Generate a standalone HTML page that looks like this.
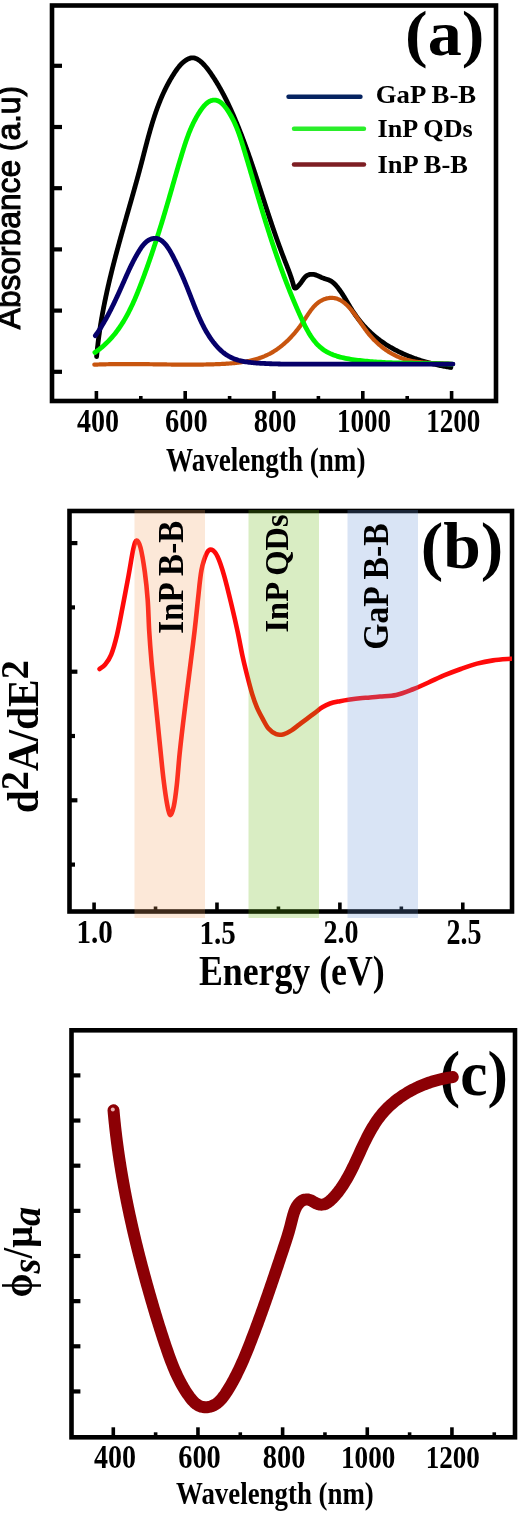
<!DOCTYPE html>
<html><head><meta charset="utf-8"><style>html,body{margin:0;padding:0;background:#fff;}svg{display:block;filter:blur(0.5px);}</style></head>
<body><svg width="520" height="1517" viewBox="0 0 520 1517">
<rect width="520" height="1517" fill="#fff"/>
<rect x="52" y="5.5" width="444" height="395.5" fill="none" stroke="#000" stroke-width="4.6"/>
<line x1="52" y1="65.8" x2="62" y2="65.8" stroke="#000" stroke-width="4.2"/>
<line x1="52" y1="127" x2="62" y2="127" stroke="#000" stroke-width="4.2"/>
<line x1="52" y1="188.2" x2="62" y2="188.2" stroke="#000" stroke-width="4.2"/>
<line x1="52" y1="249.4" x2="62" y2="249.4" stroke="#000" stroke-width="4.2"/>
<line x1="52" y1="310.6" x2="62" y2="310.6" stroke="#000" stroke-width="4.2"/>
<line x1="52" y1="371.8" x2="62" y2="371.8" stroke="#000" stroke-width="4.2"/>
<line x1="96.4" y1="401" x2="96.4" y2="391" stroke="#000" stroke-width="3.6"/>
<line x1="140.8" y1="401" x2="140.8" y2="396" stroke="#000" stroke-width="3.6"/>
<line x1="185.2" y1="401" x2="185.2" y2="391" stroke="#000" stroke-width="3.6"/>
<line x1="229.6" y1="401" x2="229.6" y2="396" stroke="#000" stroke-width="3.6"/>
<line x1="274" y1="401" x2="274" y2="391" stroke="#000" stroke-width="3.6"/>
<line x1="318.4" y1="401" x2="318.4" y2="396" stroke="#000" stroke-width="3.6"/>
<line x1="362.8" y1="401" x2="362.8" y2="391" stroke="#000" stroke-width="3.6"/>
<line x1="407.2" y1="401" x2="407.2" y2="396" stroke="#000" stroke-width="3.6"/>
<line x1="451.6" y1="401" x2="451.6" y2="391" stroke="#000" stroke-width="3.6"/>
<path d="M96.62,356.55 L96.70,355.58 L96.79,354.61 L96.88,353.64 L96.97,352.68 L97.07,351.71 L97.17,350.74 L97.27,349.77 L97.37,348.80 L97.47,347.84 L97.58,346.87 L97.69,345.90 L97.80,344.94 L97.91,343.97 L98.02,343.01 L98.14,342.04 L98.26,341.08 L98.38,340.11 L98.50,339.15 L98.63,338.18 L98.76,337.22 L98.89,336.26 L99.02,335.29 L99.15,334.33 L99.29,333.37 L99.42,332.41 L99.56,331.45 L99.70,330.48 L99.85,329.52 L99.99,328.56 L100.14,327.60 L100.29,326.64 L100.44,325.68 L100.59,324.72 L100.75,323.76 L100.90,322.81 L101.06,321.85 L101.22,320.89 L101.38,319.93 L101.55,318.97 L101.71,318.02 L101.88,317.06 L102.05,316.10 L102.22,315.15 L102.39,314.19 L102.57,313.24 L102.74,312.28 L102.92,311.32 L103.10,310.37 L103.28,309.42 L103.46,308.46 L103.64,307.51 L103.83,306.55 L104.02,305.60 L104.21,304.65 L104.40,303.70 L104.59,302.74 L104.78,301.79 L104.97,300.84 L105.17,299.89 L105.37,298.94 L105.57,297.99 L105.77,297.04 L105.97,296.09 L106.17,295.14 L106.38,294.19 L106.58,293.24 L106.79,292.29 L107.00,291.34 L107.21,290.39 L107.42,289.44 L107.63,288.49 L107.85,287.55 L108.06,286.60 L108.28,285.65 L108.49,284.71 L108.71,283.76 L108.93,282.81 L109.15,281.87 L109.38,280.92 L109.60,279.98 L109.82,279.03 L110.05,278.09 L110.28,277.14 L110.50,276.20 L110.73,275.25 L110.96,274.31 L111.19,273.37 L111.43,272.42 L111.66,271.48 L111.89,270.54 L112.13,269.60 L112.36,268.65 L112.60,267.71 L112.84,266.77 L113.08,265.83 L113.32,264.89 L113.56,263.95 L113.80,263.01 L114.04,262.07 L114.29,261.13 L114.53,260.19 L114.77,259.25 L115.02,258.31 L115.27,257.37 L115.51,256.43 L115.76,255.49 L116.01,254.56 L116.26,253.62 L116.51,252.68 L116.76,251.74 L117.01,250.81 L117.27,249.87 L117.52,248.93 L117.77,248.00 L118.03,247.06 L118.28,246.12 L118.54,245.19 L118.79,244.25 L119.05,243.31 L119.31,242.38 L119.56,241.44 L119.82,240.51 L120.08,239.57 L120.34,238.64 L120.60,237.70 L120.86,236.77 L121.12,235.83 L121.38,234.90 L121.64,233.96 L121.90,233.03 L122.16,232.10 L122.43,231.16 L122.69,230.23 L122.95,229.29 L123.22,228.36 L123.48,227.43 L123.74,226.49 L124.01,225.56 L124.27,224.62 L124.54,223.69 L124.80,222.76 L125.07,221.82 L125.33,220.89 L125.60,219.96 L125.86,219.02 L126.13,218.09 L126.40,217.16 L126.66,216.22 L126.93,215.29 L127.19,214.36 L127.46,213.42 L127.73,212.49 L127.99,211.56 L128.26,210.62 L128.53,209.69 L128.79,208.75 L129.06,207.82 L129.33,206.89 L129.59,205.95 L129.86,205.02 L130.12,204.09 L130.39,203.15 L130.66,202.22 L130.92,201.28 L131.19,200.35 L131.45,199.42 L131.72,198.48 L131.98,197.55 L132.25,196.61 L132.51,195.68 L132.78,194.74 L133.04,193.81 L133.31,192.87 L133.57,191.94 L133.83,191.00 L134.10,190.07 L134.36,189.13 L134.62,188.20 L134.88,187.26 L135.14,186.32 L135.41,185.39 L135.67,184.45 L135.93,183.51 L136.19,182.58 L136.45,181.64 L136.71,180.70 L136.96,179.77 L137.22,178.83 L137.48,177.89 L137.74,176.95 L137.99,176.01 L138.25,175.08 L138.50,174.14 L138.76,173.20 L139.01,172.26 L139.27,171.32 L139.52,170.38 L139.77,169.44 L140.02,168.50 L140.27,167.56 L140.52,166.62 L140.77,165.68 L141.02,164.74 L141.27,163.80 L141.52,162.85 L141.76,161.91 L142.01,160.97 L142.26,160.03 L142.50,159.08 L142.75,158.14 L142.99,157.20 L143.23,156.25 L143.48,155.31 L143.72,154.37 L143.96,153.42 L144.21,152.48 L144.45,151.54 L144.70,150.59 L144.94,149.65 L145.18,148.71 L145.43,147.76 L145.67,146.82 L145.92,145.88 L146.17,144.94 L146.41,144.00 L146.66,143.05 L146.91,142.11 L147.16,141.17 L147.41,140.23 L147.66,139.29 L147.91,138.35 L148.17,137.41 L148.42,136.47 L148.68,135.54 L148.94,134.60 L149.20,133.66 L149.46,132.73 L149.72,131.79 L149.99,130.86 L150.25,129.92 L150.52,128.99 L150.79,128.06 L151.06,127.12 L151.34,126.19 L151.61,125.26 L151.89,124.33 L152.17,123.41 L152.46,122.48 L152.74,121.55 L153.03,120.63 L153.32,119.70 L153.62,118.78 L153.91,117.86 L154.21,116.94 L154.51,116.02 L154.82,115.10 L155.13,114.18 L155.44,113.27 L155.75,112.35 L156.07,111.44 L156.39,110.53 L156.72,109.62 L157.04,108.71 L157.37,107.80 L157.71,106.89 L158.05,105.99 L158.39,105.09 L158.74,104.19 L159.09,103.29 L159.44,102.39 L159.80,101.49 L160.16,100.59 L160.53,99.70 L160.90,98.81 L161.28,97.92 L161.66,97.03 L162.04,96.15 L162.43,95.26 L162.82,94.38 L163.22,93.50 L163.62,92.62 L164.03,91.74 L164.45,90.87 L164.86,90.00 L165.29,89.12 L165.72,88.26 L166.15,87.39 L166.59,86.53 L167.03,85.66 L167.48,84.80 L167.94,83.95 L168.40,83.09 L168.87,82.24 L169.34,81.39 L169.82,80.54 L170.30,79.69 L170.79,78.85 L171.29,78.01 L171.79,77.17 L172.30,76.33 L172.81,75.50 L173.33,74.67 L173.86,73.84 L174.39,73.01 L174.94,72.19 L175.48,71.37 L176.04,70.56 L176.61,69.75 L177.18,68.95 L177.77,68.17 L178.37,67.39 L178.98,66.63 L179.61,65.88 L180.26,65.15 L180.92,64.44 L181.59,63.75 L182.29,63.08 L183.01,62.43 L183.74,61.81 L184.50,61.21 L185.28,60.64 L186.08,60.10 L186.91,59.60 L187.75,59.15 L188.60,58.74 L189.47,58.40 L190.34,58.13 L191.22,57.94 L192.10,57.84 L192.98,57.83 L193.86,57.93 L194.73,58.11 L195.59,58.38 L196.44,58.73 L197.29,59.15 L198.12,59.63 L198.94,60.17 L199.75,60.76 L200.54,61.40 L201.32,62.07 L202.07,62.77 L202.81,63.50 L203.53,64.24 L204.23,64.99 L204.91,65.74 L205.56,66.50 L206.20,67.26 L206.82,68.02 L207.42,68.79 L208.01,69.56 L208.59,70.33 L209.16,71.10 L209.72,71.88 L210.27,72.67 L210.82,73.45 L211.36,74.24 L211.90,75.04 L212.44,75.83 L212.97,76.63 L213.50,77.44 L214.02,78.24 L214.54,79.05 L215.06,79.87 L215.57,80.68 L216.08,81.50 L216.58,82.32 L217.08,83.15 L217.58,83.98 L218.07,84.81 L218.56,85.64 L219.05,86.48 L219.53,87.32 L220.01,88.16 L220.48,89.00 L220.95,89.85 L221.42,90.70 L221.89,91.55 L222.35,92.40 L222.81,93.26 L223.26,94.11 L223.71,94.97 L224.16,95.83 L224.61,96.70 L225.05,97.56 L225.49,98.43 L225.93,99.30 L226.36,100.17 L226.79,101.04 L227.22,101.92 L227.64,102.79 L228.07,103.67 L228.49,104.55 L228.90,105.43 L229.32,106.31 L229.73,107.19 L230.14,108.08 L230.55,108.96 L230.95,109.85 L231.35,110.74 L231.75,111.63 L232.15,112.52 L232.55,113.41 L232.94,114.30 L233.33,115.19 L233.72,116.08 L234.10,116.98 L234.49,117.87 L234.87,118.77 L235.25,119.66 L235.63,120.56 L236.01,121.45 L236.38,122.35 L236.76,123.25 L237.13,124.15 L237.50,125.05 L237.86,125.95 L238.23,126.85 L238.59,127.75 L238.95,128.65 L239.31,129.55 L239.67,130.45 L240.03,131.36 L240.38,132.26 L240.74,133.16 L241.09,134.07 L241.44,134.97 L241.79,135.88 L242.13,136.79 L242.48,137.69 L242.82,138.60 L243.17,139.51 L243.51,140.42 L243.85,141.33 L244.19,142.24 L244.52,143.14 L244.86,144.05 L245.19,144.97 L245.53,145.88 L245.86,146.79 L246.19,147.70 L246.52,148.61 L246.85,149.53 L247.17,150.44 L247.50,151.35 L247.82,152.27 L248.15,153.18 L248.47,154.10 L248.79,155.01 L249.11,155.93 L249.43,156.84 L249.75,157.76 L250.07,158.67 L250.38,159.59 L250.70,160.51 L251.01,161.43 L251.33,162.34 L251.64,163.26 L251.95,164.18 L252.26,165.10 L252.58,166.02 L252.89,166.94 L253.19,167.86 L253.50,168.78 L253.81,169.70 L254.12,170.62 L254.42,171.54 L254.73,172.46 L255.04,173.38 L255.34,174.30 L255.65,175.23 L255.95,176.15 L256.25,177.07 L256.56,177.99 L256.86,178.92 L257.16,179.84 L257.46,180.76 L257.77,181.68 L258.07,182.61 L258.37,183.53 L258.67,184.45 L258.97,185.38 L259.27,186.30 L259.57,187.23 L259.87,188.15 L260.17,189.08 L260.47,190.00 L260.77,190.92 L261.07,191.85 L261.37,192.77 L261.67,193.70 L261.97,194.62 L262.27,195.55 L262.57,196.47 L262.86,197.40 L263.16,198.33 L263.46,199.25 L263.76,200.18 L264.06,201.10 L264.36,202.03 L264.67,202.95 L264.97,203.88 L265.27,204.80 L265.57,205.73 L265.87,206.65 L266.17,207.58 L266.47,208.51 L266.78,209.43 L267.08,210.36 L267.38,211.28 L267.69,212.21 L267.99,213.13 L268.30,214.06 L268.60,214.98 L268.91,215.91 L269.22,216.83 L269.52,217.76 L269.83,218.68 L270.14,219.61 L270.45,220.53 L270.76,221.46 L271.07,222.38 L271.38,223.30 L271.69,224.23 L272.00,225.15 L272.32,226.07 L272.63,226.99 L272.95,227.92 L273.26,228.84 L273.58,229.76 L273.89,230.68 L274.21,231.60 L274.53,232.52 L274.85,233.44 L275.17,234.36 L275.49,235.27 L275.81,236.19 L276.13,237.11 L276.45,238.02 L276.78,238.94 L277.10,239.85 L277.43,240.77 L277.75,241.68 L278.08,242.59 L278.41,243.50 L278.73,244.41 L279.06,245.32 L279.40,246.23 L279.73,247.14 L280.06,248.05 L280.39,248.95 L280.73,249.86 L281.06,250.76 L281.40,251.67 L281.74,252.57 L282.07,253.47 L282.41,254.37 L282.75,255.27 L283.10,256.17 L283.44,257.06 L283.78,257.96 L284.13,258.85 L284.47,259.75 L284.82,260.64 L285.17,261.53 L285.52,262.42 L285.87,263.31 L286.22,264.20 L286.57,265.09 L286.92,265.98 L287.26,266.87 L287.61,267.76 L287.96,268.66 L288.30,269.56 L288.64,270.46 L288.98,271.36 L289.32,272.27 L289.66,273.18 L289.99,274.10 L290.32,275.02 L290.64,275.95 L290.96,276.89 L291.27,277.83 L291.58,278.77 L291.89,279.73 L292.19,280.69 L292.48,281.66 L292.77,282.64 L293.05,283.63 L293.32,284.62 L293.60,285.61 L293.89,286.53 L294.21,287.31 L294.59,287.88 L295.05,288.17 L295.59,288.14 L296.21,287.84 L296.87,287.32 L297.57,286.65 L298.28,285.89 L298.98,285.11 L299.66,284.33 L300.32,283.53 L300.96,282.71 L301.58,281.86 L302.19,280.99 L302.78,280.10 L303.38,279.23 L304.00,278.39 L304.63,277.60 L305.30,276.88 L306.00,276.24 L306.74,275.70 L307.52,275.26 L308.33,274.91 L309.17,274.64 L310.04,274.46 L310.92,274.35 L311.81,274.32 L312.71,274.36 L313.62,274.46 L314.53,274.63 L315.42,274.86 L316.31,275.14 L317.19,275.47 L318.05,275.84 L318.90,276.23 L319.75,276.64 L320.59,277.04 L321.43,277.42 L322.28,277.78 L323.12,278.10 L323.97,278.39 L324.82,278.67 L325.67,278.94 L326.51,279.21 L327.35,279.49 L328.18,279.79 L329.00,280.11 L329.81,280.48 L330.61,280.89 L331.40,281.35 L332.17,281.88 L332.92,282.46 L333.66,283.10 L334.38,283.77 L335.08,284.48 L335.77,285.23 L336.45,286.00 L337.11,286.79 L337.75,287.59 L338.38,288.40 L338.99,289.21 L339.58,290.02 L340.17,290.83 L340.74,291.65 L341.29,292.46 L341.84,293.28 L342.38,294.10 L342.90,294.91 L343.42,295.73 L343.93,296.55 L344.44,297.37 L344.93,298.19 L345.43,299.01 L345.91,299.83 L346.40,300.65 L346.88,301.47 L347.36,302.29 L347.85,303.11 L348.33,303.92 L348.81,304.74 L349.29,305.56 L349.78,306.37 L350.27,307.19 L350.77,308.00 L351.27,308.81 L351.78,309.62 L352.30,310.43 L352.82,311.24 L353.35,312.05 L353.89,312.85 L354.44,313.65 L354.99,314.45 L355.55,315.25 L356.12,316.04 L356.70,316.83 L357.28,317.61 L357.87,318.40 L358.46,319.18 L359.06,319.95 L359.67,320.72 L360.29,321.49 L360.91,322.25 L361.54,323.00 L362.18,323.75 L362.82,324.50 L363.47,325.23 L364.12,325.97 L364.78,326.69 L365.45,327.41 L366.12,328.13 L366.80,328.83 L367.49,329.53 L368.18,330.22 L368.87,330.91 L369.57,331.59 L370.28,332.26 L370.99,332.92 L371.71,333.57 L372.44,334.22 L373.17,334.86 L373.90,335.49 L374.64,336.12 L375.39,336.74 L376.14,337.35 L376.89,337.96 L377.65,338.56 L378.42,339.15 L379.19,339.73 L379.96,340.31 L380.74,340.88 L381.53,341.44 L382.31,342.00 L383.11,342.55 L383.91,343.09 L384.71,343.63 L385.51,344.16 L386.32,344.69 L387.14,345.20 L387.96,345.71 L388.78,346.22 L389.61,346.72 L390.44,347.21 L391.28,347.69 L392.11,348.17 L392.96,348.65 L393.80,349.11 L394.65,349.57 L395.51,350.03 L396.36,350.48 L397.22,350.92 L398.09,351.35 L398.96,351.78 L399.83,352.21 L400.70,352.63 L401.58,353.04 L402.46,353.45 L403.34,353.85 L404.22,354.24 L405.11,354.63 L406.00,355.01 L406.90,355.39 L407.79,355.76 L408.69,356.13 L409.60,356.49 L410.50,356.85 L411.41,357.20 L412.32,357.54 L413.23,357.88 L414.14,358.22 L415.06,358.54 L415.97,358.87 L416.89,359.19 L417.82,359.50 L418.74,359.81 L419.67,360.11 L420.59,360.41 L421.52,360.70 L422.45,360.99 L423.39,361.27 L424.32,361.55 L425.25,361.82 L426.19,362.09 L427.13,362.35 L428.07,362.61 L429.01,362.86 L429.95,363.11 L430.89,363.36 L431.84,363.60 L432.78,363.83 L433.73,364.06 L434.67,364.29 L435.62,364.51 L436.57,364.73 L437.51,364.94 L438.46,365.15 L439.41,365.35 L440.36,365.55 L441.31,365.75 L442.26,365.94 L443.21,366.13 L444.16,366.31 L445.11,366.49 L446.07,366.66 L447.02,366.83 L447.97,367.00 L448.92,367.16 L449.87,367.32 L450.82,367.48" fill="none" stroke="#000" stroke-width="4.8" stroke-linecap="round" stroke-linejoin="round" />
<path d="M94.33,364.68 L95.37,364.63 L96.42,364.59 L97.47,364.55 L98.51,364.51 L99.56,364.47 L100.60,364.43 L101.65,364.40 L102.69,364.37 L103.73,364.34 L104.77,364.31 L105.81,364.28 L106.85,364.26 L107.89,364.23 L108.93,364.21 L109.97,364.19 L111.00,364.17 L112.04,364.16 L113.08,364.14 L114.11,364.12 L115.15,364.11 L116.18,364.10 L117.21,364.09 L118.25,364.08 L119.28,364.07 L120.31,364.06 L121.34,364.06 L122.37,364.05 L123.40,364.05 L124.43,364.05 L125.46,364.04 L126.49,364.04 L127.52,364.04 L128.55,364.05 L129.58,364.05 L130.60,364.05 L131.63,364.06 L132.66,364.06 L133.68,364.07 L134.71,364.07 L135.73,364.08 L136.76,364.09 L137.78,364.10 L138.81,364.11 L139.83,364.12 L140.86,364.13 L141.88,364.14 L142.91,364.15 L143.93,364.16 L144.95,364.17 L145.97,364.18 L147.00,364.20 L148.02,364.21 L149.04,364.22 L150.06,364.24 L151.09,364.25 L152.11,364.27 L153.13,364.28 L154.15,364.30 L155.17,364.31 L156.20,364.33 L157.22,364.34 L158.24,364.35 L159.26,364.37 L160.28,364.38 L161.30,364.40 L162.32,364.41 L163.35,364.43 L164.37,364.44 L165.39,364.46 L166.41,364.47 L167.43,364.48 L168.45,364.50 L169.48,364.51 L170.50,364.52 L171.52,364.53 L172.54,364.55 L173.56,364.56 L174.59,364.57 L175.61,364.58 L176.63,364.59 L177.65,364.60 L178.68,364.60 L179.70,364.61 L180.73,364.62 L181.75,364.63 L182.77,364.63 L183.80,364.64 L184.82,364.64 L185.85,364.64 L186.87,364.64 L187.90,364.64 L188.92,364.64 L189.95,364.64 L190.98,364.64 L192.01,364.64 L193.03,364.64 L194.06,364.63 L195.09,364.62 L196.12,364.62 L197.15,364.61 L198.18,364.60 L199.21,364.59 L200.24,364.57 L201.27,364.56 L202.30,364.54 L203.33,364.53 L204.36,364.51 L205.40,364.49 L206.43,364.47 L207.47,364.45 L208.50,364.42 L209.54,364.40 L210.57,364.37 L211.61,364.34 L212.65,364.31 L213.68,364.28 L214.72,364.24 L215.76,364.21 L216.80,364.17 L217.84,364.13 L218.88,364.09 L219.93,364.04 L220.97,363.99 L222.01,363.95 L223.05,363.89 L224.10,363.84 L225.14,363.78 L226.18,363.72 L227.22,363.65 L228.26,363.58 L229.30,363.51 L230.34,363.43 L231.38,363.34 L232.42,363.25 L233.45,363.16 L234.49,363.06 L235.52,362.95 L236.55,362.84 L237.58,362.73 L238.61,362.60 L239.63,362.47 L240.66,362.33 L241.68,362.19 L242.69,362.03 L243.71,361.87 L244.72,361.71 L245.73,361.53 L246.74,361.35 L247.74,361.15 L248.74,360.95 L249.73,360.74 L250.73,360.52 L251.71,360.29 L252.70,360.05 L253.68,359.80 L254.65,359.54 L255.62,359.27 L256.59,358.99 L257.55,358.70 L258.51,358.39 L259.46,358.08 L260.41,357.75 L261.35,357.42 L262.29,357.07 L263.22,356.70 L264.15,356.33 L265.07,355.94 L265.98,355.54 L266.89,355.12 L267.79,354.70 L268.68,354.25 L269.57,353.80 L270.45,353.33 L271.33,352.85 L272.20,352.35 L273.06,351.84 L273.92,351.32 L274.77,350.78 L275.61,350.24 L276.45,349.68 L277.28,349.10 L278.10,348.52 L278.92,347.92 L279.73,347.32 L280.54,346.70 L281.33,346.07 L282.13,345.43 L282.91,344.77 L283.69,344.11 L284.47,343.44 L285.23,342.76 L285.99,342.06 L286.75,341.36 L287.49,340.65 L288.24,339.93 L288.97,339.20 L289.70,338.46 L290.42,337.71 L291.14,336.95 L291.85,336.18 L292.55,335.41 L293.25,334.63 L293.94,333.84 L294.63,333.04 L295.31,332.23 L295.98,331.42 L296.64,330.60 L297.30,329.77 L297.96,328.94 L298.61,328.10 L299.25,327.25 L299.88,326.40 L300.51,325.54 L301.13,324.67 L301.75,323.80 L302.36,322.93 L302.96,322.05 L303.56,321.16 L304.16,320.27 L304.74,319.38 L305.33,318.49 L305.91,317.59 L306.50,316.70 L307.08,315.82 L307.66,314.93 L308.25,314.06 L308.84,313.19 L309.44,312.33 L310.04,311.48 L310.65,310.64 L311.27,309.82 L311.90,309.01 L312.54,308.22 L313.19,307.44 L313.85,306.69 L314.53,305.95 L315.22,305.24 L315.93,304.55 L316.66,303.89 L317.41,303.25 L318.17,302.64 L318.96,302.06 L319.77,301.51 L320.60,300.99 L321.45,300.51 L322.33,300.06 L323.22,299.65 L324.12,299.28 L325.04,298.94 L325.97,298.65 L326.91,298.40 L327.86,298.20 L328.81,298.04 L329.77,297.94 L330.73,297.88 L331.68,297.87 L332.64,297.91 L333.59,298.00 L334.54,298.15 L335.48,298.34 L336.41,298.58 L337.33,298.87 L338.23,299.20 L339.12,299.59 L340.00,300.01 L340.87,300.48 L341.72,300.99 L342.55,301.54 L343.37,302.13 L344.18,302.74 L344.98,303.39 L345.76,304.07 L346.54,304.78 L347.29,305.51 L348.04,306.26 L348.77,307.03 L349.50,307.82 L350.21,308.63 L350.91,309.45 L351.60,310.29 L352.27,311.13 L352.94,311.98 L353.59,312.84 L354.24,313.70 L354.87,314.56 L355.50,315.42 L356.12,316.28 L356.73,317.14 L357.33,318.00 L357.92,318.85 L358.51,319.71 L359.10,320.56 L359.68,321.42 L360.27,322.27 L360.84,323.12 L361.42,323.96 L362.00,324.80 L362.58,325.64 L363.16,326.48 L363.75,327.31 L364.34,328.14 L364.93,328.97 L365.53,329.79 L366.13,330.60 L366.74,331.41 L367.36,332.22 L367.99,333.02 L368.63,333.81 L369.28,334.60 L369.94,335.38 L370.61,336.16 L371.29,336.92 L371.97,337.68 L372.67,338.44 L373.38,339.19 L374.09,339.92 L374.81,340.65 L375.55,341.38 L376.29,342.09 L377.04,342.80 L377.80,343.49 L378.56,344.18 L379.34,344.86 L380.12,345.53 L380.91,346.19 L381.71,346.84 L382.52,347.47 L383.33,348.10 L384.16,348.72 L384.99,349.32 L385.83,349.92 L386.67,350.50 L387.53,351.07 L388.39,351.63 L389.25,352.18 L390.13,352.71 L391.01,353.23 L391.90,353.74 L392.79,354.24 L393.69,354.72 L394.60,355.19 L395.51,355.64 L396.43,356.08 L397.36,356.50 L398.29,356.91 L399.23,357.31 L400.17,357.69 L401.12,358.06 L402.08,358.41 L403.04,358.74 L404.01,359.06 L404.98,359.36 L405.96,359.64 L406.94,359.91 L407.93,360.16 L408.92,360.40 L409.91,360.63 L410.91,360.84 L411.92,361.04 L412.92,361.22 L413.93,361.39 L414.95,361.56 L415.97,361.71 L416.99,361.85 L418.01,361.97 L419.04,362.10 L420.06,362.21 L421.09,362.31 L422.12,362.40 L423.16,362.49 L424.19,362.57 L425.23,362.65 L426.26,362.71 L427.30,362.78 L428.34,362.83 L429.38,362.89 L430.42,362.94 L431.46,362.98 L432.50,363.03 L433.53,363.07 L434.57,363.11 L435.61,363.15 L436.64,363.19 L437.68,363.23 L438.71,363.27 L439.74,363.31 L440.77,363.35 L441.80,363.39 L442.82,363.44 L443.84,363.49 L444.86,363.54 L445.88,363.60 L446.89,363.66 L447.90,363.72 L448.91,363.80 L449.91,363.87 L450.91,363.96 L451.90,364.05 L452.89,364.15" fill="none" stroke="#c8550f" stroke-width="4.2" stroke-linecap="round" stroke-linejoin="round" />
<path d="M94.92,352.44 L96.40,351.42 L97.84,350.37 L99.26,349.30 L100.64,348.21 L102.00,347.09 L103.33,345.95 L104.63,344.79 L105.91,343.60 L107.15,342.40 L108.38,341.17 L109.57,339.92 L110.74,338.66 L111.89,337.37 L113.01,336.06 L114.11,334.74 L115.19,333.40 L116.25,332.04 L117.28,330.67 L118.29,329.28 L119.28,327.87 L120.26,326.45 L121.21,325.01 L122.14,323.56 L123.06,322.10 L123.95,320.62 L124.83,319.13 L125.69,317.63 L126.54,316.11 L127.37,314.59 L128.18,313.05 L128.98,311.51 L129.77,309.95 L130.54,308.39 L131.30,306.81 L132.05,305.23 L132.78,303.65 L133.50,302.05 L134.22,300.45 L134.92,298.84 L135.61,297.23 L136.29,295.61 L136.96,293.98 L137.63,292.36 L138.28,290.72 L138.93,289.09 L139.58,287.45 L140.21,285.82 L140.84,284.18 L141.47,282.54 L142.09,280.89 L142.71,279.25 L143.32,277.61 L143.93,275.97 L144.54,274.33 L145.14,272.69 L145.73,271.04 L146.33,269.40 L146.92,267.76 L147.50,266.11 L148.08,264.47 L148.66,262.82 L149.23,261.18 L149.81,259.53 L150.37,257.89 L150.94,256.24 L151.50,254.60 L152.06,252.95 L152.61,251.30 L153.16,249.65 L153.71,248.00 L154.26,246.35 L154.80,244.70 L155.34,243.05 L155.87,241.40 L156.41,239.75 L156.94,238.09 L157.47,236.44 L157.99,234.78 L158.52,233.13 L159.04,231.47 L159.56,229.81 L160.07,228.16 L160.59,226.50 L161.10,224.84 L161.61,223.18 L162.12,221.51 L162.63,219.85 L163.13,218.19 L163.63,216.52 L164.13,214.86 L164.63,213.19 L165.13,211.52 L165.63,209.85 L166.12,208.18 L166.61,206.51 L167.10,204.83 L167.59,203.16 L168.08,201.49 L168.57,199.81 L169.06,198.13 L169.54,196.45 L170.03,194.77 L170.51,193.09 L170.99,191.41 L171.48,189.72 L171.96,188.04 L172.44,186.36 L172.92,184.67 L173.40,182.99 L173.89,181.31 L174.37,179.62 L174.85,177.94 L175.34,176.26 L175.82,174.58 L176.31,172.90 L176.79,171.22 L177.28,169.54 L177.77,167.86 L178.26,166.19 L178.76,164.51 L179.25,162.84 L179.75,161.17 L180.25,159.50 L180.75,157.84 L181.26,156.18 L181.76,154.52 L182.27,152.86 L182.78,151.20 L183.30,149.55 L183.82,147.90 L184.34,146.26 L184.88,144.62 L185.41,142.98 L185.96,141.34 L186.52,139.71 L187.10,138.08 L187.69,136.46 L188.29,134.84 L188.91,133.22 L189.55,131.60 L190.21,129.99 L190.89,128.38 L191.60,126.78 L192.33,125.17 L193.09,123.58 L193.87,121.98 L194.69,120.39 L195.53,118.80 L196.41,117.21 L197.32,115.63 L198.27,114.05 L199.26,112.48 L200.28,110.91 L201.34,109.37 L202.45,107.87 L203.59,106.45 L204.77,105.12 L205.99,103.89 L207.25,102.81 L208.55,101.88 L209.89,101.13 L211.26,100.57 L212.66,100.22 L214.06,100.07 L215.46,100.12 L216.83,100.39 L218.17,100.87 L219.48,101.55 L220.74,102.41 L221.96,103.43 L223.15,104.59 L224.30,105.86 L225.40,107.22 L226.47,108.65 L227.50,110.13 L228.49,111.64 L229.44,113.16 L230.36,114.70 L231.24,116.25 L232.08,117.81 L232.90,119.39 L233.68,120.97 L234.43,122.57 L235.16,124.17 L235.86,125.79 L236.54,127.41 L237.19,129.04 L237.82,130.68 L238.44,132.32 L239.03,133.97 L239.61,135.63 L240.17,137.29 L240.72,138.96 L241.26,140.62 L241.79,142.30 L242.31,143.97 L242.83,145.65 L243.34,147.32 L243.84,149.00 L244.34,150.68 L244.85,152.36 L245.35,154.03 L245.85,155.71 L246.35,157.39 L246.84,159.06 L247.34,160.74 L247.84,162.41 L248.33,164.09 L248.83,165.76 L249.32,167.44 L249.82,169.11 L250.31,170.78 L250.80,172.46 L251.30,174.13 L251.79,175.80 L252.28,177.47 L252.77,179.15 L253.26,180.82 L253.76,182.49 L254.25,184.16 L254.74,185.83 L255.24,187.49 L255.73,189.16 L256.22,190.83 L256.72,192.50 L257.21,194.17 L257.71,195.83 L258.20,197.50 L258.70,199.16 L259.20,200.83 L259.70,202.49 L260.20,204.16 L260.70,205.82 L261.20,207.49 L261.70,209.15 L262.21,210.81 L262.71,212.47 L263.22,214.13 L263.73,215.79 L264.24,217.45 L264.75,219.11 L265.26,220.77 L265.78,222.43 L266.30,224.09 L266.81,225.75 L267.33,227.40 L267.86,229.06 L268.38,230.71 L268.91,232.37 L269.44,234.02 L269.97,235.68 L270.50,237.33 L271.04,238.98 L271.58,240.63 L272.12,242.28 L272.66,243.93 L273.21,245.58 L273.76,247.23 L274.31,248.88 L274.87,250.53 L275.43,252.18 L275.99,253.82 L276.55,255.47 L277.12,257.11 L277.69,258.76 L278.26,260.40 L278.84,262.05 L279.42,263.69 L280.01,265.33 L280.60,266.97 L281.19,268.61 L281.78,270.25 L282.38,271.89 L282.99,273.53 L283.59,275.17 L284.20,276.80 L284.82,278.44 L285.44,280.07 L286.06,281.71 L286.69,283.34 L287.32,284.98 L287.96,286.61 L288.60,288.24 L289.25,289.87 L289.90,291.50 L290.55,293.13 L291.22,294.76 L291.88,296.38 L292.55,298.01 L293.23,299.64 L293.91,301.26 L294.59,302.89 L295.28,304.51 L295.98,306.13 L296.68,307.75 L297.39,309.37 L298.10,311.00 L298.82,312.61 L299.54,314.23 L300.27,315.85 L301.00,317.47 L301.74,319.08 L302.49,320.69 L303.25,322.30 L304.02,323.90 L304.80,325.48 L305.60,327.06 L306.42,328.61 L307.25,330.15 L308.10,331.67 L308.98,333.17 L309.87,334.64 L310.80,336.09 L311.75,337.50 L312.73,338.89 L313.74,340.23 L314.78,341.55 L315.85,342.82 L316.96,344.05 L318.11,345.24 L319.30,346.38 L320.53,347.47 L321.80,348.52 L323.12,349.50 L324.48,350.44 L325.89,351.32 L327.34,352.14 L328.83,352.91 L330.36,353.64 L331.92,354.31 L333.52,354.95 L335.15,355.53 L336.80,356.08 L338.49,356.59 L340.19,357.07 L341.92,357.50 L343.66,357.91 L345.43,358.29 L347.20,358.63 L348.98,358.96 L350.78,359.26 L352.58,359.53 L354.38,359.79 L356.18,360.03 L357.98,360.26 L359.78,360.47 L361.57,360.67 L363.36,360.86 L365.14,361.04 L366.91,361.21 L368.68,361.37 L370.44,361.52 L372.19,361.67 L373.94,361.80 L375.69,361.93 L377.43,362.05 L379.17,362.16 L380.90,362.26 L382.63,362.36 L384.36,362.45 L386.08,362.54 L387.80,362.62 L389.52,362.69 L391.24,362.76 L392.95,362.82 L394.67,362.88 L396.38,362.93 L398.09,362.98 L399.80,363.02 L401.51,363.07 L403.23,363.10 L404.94,363.14 L406.65,363.17 L408.36,363.20 L410.08,363.23 L411.79,363.26 L413.51,363.29 L415.23,363.31 L416.95,363.34 L418.67,363.36 L420.40,363.39 L422.13,363.41 L423.87,363.44 L425.60,363.46 L427.35,363.49 L429.09,363.52 L430.84,363.55 L432.60,363.58 L434.36,363.62 L436.13,363.65 L437.90,363.70 L439.68,363.74 L441.47,363.79 L443.26,363.84 L445.06,363.90 L446.87,363.96 L448.68,364.02 L450.50,364.10 L452.33,364.17" fill="none" stroke="#00f500" stroke-width="4.8" stroke-linecap="round" stroke-linejoin="round" />
<path d="M95.37,335.71 L96.06,334.72 L96.75,333.73 L97.43,332.73 L98.10,331.73 L98.77,330.72 L99.43,329.71 L100.08,328.69 L100.72,327.66 L101.36,326.63 L102.00,325.60 L102.62,324.56 L103.24,323.51 L103.86,322.47 L104.47,321.41 L105.07,320.36 L105.67,319.30 L106.26,318.23 L106.85,317.16 L107.43,316.09 L108.01,315.02 L108.58,313.94 L109.15,312.86 L109.71,311.77 L110.27,310.68 L110.83,309.59 L111.38,308.50 L111.92,307.41 L112.46,306.31 L113.00,305.21 L113.54,304.11 L114.07,303.01 L114.60,301.91 L115.12,300.80 L115.64,299.69 L116.16,298.59 L116.67,297.48 L117.19,296.37 L117.70,295.26 L118.20,294.15 L118.71,293.03 L119.21,291.92 L119.71,290.81 L120.21,289.70 L120.71,288.59 L121.20,287.48 L121.70,286.37 L122.19,285.26 L122.68,284.15 L123.17,283.04 L123.66,281.94 L124.14,280.83 L124.63,279.73 L125.12,278.62 L125.60,277.52 L126.09,276.42 L126.59,275.32 L127.08,274.22 L127.58,273.12 L128.08,272.02 L128.58,270.92 L129.09,269.82 L129.61,268.72 L130.13,267.62 L130.65,266.52 L131.19,265.42 L131.73,264.32 L132.28,263.22 L132.83,262.11 L133.40,261.01 L133.98,259.91 L134.56,258.80 L135.16,257.70 L135.77,256.59 L136.39,255.48 L137.02,254.37 L137.67,253.26 L138.33,252.15 L139.00,251.03 L139.69,249.93 L140.40,248.84 L141.12,247.77 L141.86,246.72 L142.63,245.71 L143.42,244.75 L144.23,243.82 L145.06,242.96 L145.93,242.15 L146.82,241.41 L147.73,240.74 L148.68,240.15 L149.64,239.64 L150.62,239.21 L151.61,238.86 L152.60,238.60 L153.60,238.43 L154.59,238.34 L155.58,238.35 L156.55,238.45 L157.51,238.64 L158.44,238.93 L159.36,239.31 L160.25,239.78 L161.13,240.32 L161.99,240.95 L162.83,241.64 L163.65,242.40 L164.46,243.23 L165.25,244.11 L166.02,245.04 L166.77,246.02 L167.51,247.04 L168.24,248.10 L168.95,249.20 L169.64,250.32 L170.32,251.46 L170.99,252.63 L171.64,253.81 L172.28,254.99 L172.91,256.18 L173.53,257.38 L174.13,258.56 L174.72,259.74 L175.31,260.90 L175.88,262.06 L176.44,263.20 L176.99,264.33 L177.53,265.46 L178.06,266.58 L178.59,267.69 L179.10,268.79 L179.61,269.89 L180.11,270.98 L180.61,272.07 L181.10,273.15 L181.58,274.23 L182.06,275.31 L182.53,276.39 L182.99,277.47 L183.46,278.54 L183.92,279.62 L184.37,280.70 L184.82,281.78 L185.27,282.86 L185.72,283.94 L186.16,285.03 L186.61,286.13 L187.05,287.23 L187.49,288.33 L187.93,289.45 L188.37,290.56 L188.81,291.69 L189.26,292.82 L189.70,293.95 L190.14,295.09 L190.59,296.23 L191.03,297.38 L191.48,298.52 L191.93,299.67 L192.38,300.82 L192.83,301.98 L193.28,303.13 L193.74,304.29 L194.19,305.44 L194.65,306.59 L195.12,307.74 L195.58,308.89 L196.05,310.04 L196.53,311.19 L197.00,312.33 L197.48,313.47 L197.97,314.60 L198.45,315.73 L198.95,316.86 L199.44,317.98 L199.94,319.09 L200.45,320.20 L200.96,321.30 L201.48,322.40 L202.01,323.48 L202.54,324.57 L203.08,325.65 L203.63,326.72 L204.19,327.78 L204.76,328.84 L205.34,329.90 L205.93,330.95 L206.53,331.99 L207.15,333.03 L207.78,334.06 L208.42,335.09 L209.08,336.11 L209.75,337.13 L210.43,338.15 L211.13,339.15 L211.85,340.16 L212.59,341.15 L213.34,342.14 L214.11,343.11 L214.89,344.08 L215.69,345.03 L216.51,345.97 L217.34,346.89 L218.19,347.79 L219.05,348.68 L219.93,349.54 L220.83,350.39 L221.74,351.20 L222.67,352.00 L223.62,352.77 L224.58,353.51 L225.56,354.22 L226.55,354.89 L227.56,355.54 L228.58,356.15 L229.62,356.73 L230.68,357.28 L231.75,357.79 L232.83,358.27 L233.93,358.72 L235.04,359.14 L236.16,359.53 L237.29,359.90 L238.43,360.24 L239.59,360.55 L240.75,360.84 L241.92,361.11 L243.10,361.36 L244.29,361.59 L245.49,361.80 L246.69,361.99 L247.90,362.17 L249.12,362.33 L250.33,362.47 L251.56,362.61 L252.78,362.73 L254.01,362.84 L255.24,362.94 L256.48,363.03 L257.71,363.11 L258.95,363.19 L260.18,363.26 L261.42,363.33 L262.65,363.40 L263.88,363.46 L265.12,363.52 L266.35,363.58 L267.58,363.63 L268.81,363.68 L270.04,363.73 L271.26,363.77 L272.49,363.81 L273.72,363.85 L274.94,363.89 L276.17,363.92 L277.39,363.95 L278.62,363.98 L279.84,364.01 L281.06,364.03 L282.28,364.05 L283.50,364.07 L284.72,364.09 L285.95,364.11 L287.17,364.12 L288.38,364.13 L289.60,364.14 L290.82,364.15 L292.04,364.16 L293.26,364.17 L294.48,364.17 L295.69,364.18 L296.91,364.18 L298.13,364.18 L299.34,364.18 L300.56,364.18 L301.78,364.18 L302.99,364.17 L304.21,364.17 L305.43,364.17 L306.64,364.16 L307.86,364.16 L309.07,364.15 L310.29,364.15 L311.50,364.14 L312.72,364.13 L313.94,364.13 L315.15,364.12 L316.37,364.11 L317.58,364.11 L318.80,364.10 L320.02,364.10 L321.23,364.09 L322.45,364.09 L323.67,364.08 L324.88,364.08 L326.10,364.07 L327.32,364.07 L328.54,364.06 L329.76,364.06 L330.97,364.06 L332.19,364.05 L333.41,364.05 L334.63,364.05 L335.85,364.05 L337.07,364.04 L338.29,364.04 L339.50,364.04 L340.72,364.04 L341.94,364.04 L343.16,364.04 L344.38,364.04 L345.60,364.04 L346.82,364.04 L348.04,364.04 L349.26,364.04 L350.48,364.04 L351.70,364.04 L352.92,364.04 L354.14,364.04 L355.37,364.04 L356.59,364.04 L357.81,364.04 L359.03,364.05 L360.25,364.05 L361.47,364.05 L362.69,364.05 L363.91,364.05 L365.13,364.06 L366.35,364.06 L367.58,364.06 L368.80,364.06 L370.02,364.06 L371.24,364.07 L372.46,364.07 L373.68,364.07 L374.91,364.07 L376.13,364.08 L377.35,364.08 L378.57,364.08 L379.79,364.08 L381.01,364.09 L382.24,364.09 L383.46,364.09 L384.68,364.10 L385.90,364.10 L387.12,364.10 L388.34,364.10 L389.57,364.11 L390.79,364.11 L392.01,364.11 L393.23,364.11 L394.45,364.12 L395.67,364.12 L396.89,364.12 L398.12,364.12 L399.34,364.13 L400.56,364.13 L401.78,364.13 L403.00,364.13 L404.22,364.13 L405.44,364.13 L406.66,364.14 L407.88,364.14 L409.10,364.14 L410.33,364.14 L411.55,364.14 L412.77,364.14 L413.99,364.14 L415.21,364.14 L416.43,364.14 L417.65,364.14 L418.87,364.14 L420.09,364.14 L421.31,364.14 L422.53,364.14 L423.75,364.14 L424.96,364.14 L426.18,364.14 L427.40,364.14 L428.62,364.13 L429.84,364.13 L431.06,364.13 L432.28,364.13 L433.49,364.12 L434.71,364.12 L435.93,364.12 L437.15,364.11 L438.37,364.11 L439.58,364.11 L440.80,364.10 L442.02,364.10 L443.23,364.09 L444.45,364.08 L445.67,364.08 L446.88,364.07 L448.10,364.07 L449.31,364.06 L450.53,364.05 L451.75,364.04 L452.96,364.04" fill="none" stroke="#06006a" stroke-width="4.8" stroke-linecap="round" stroke-linejoin="round" />
<line x1="288.5" y1="96.8" x2="360.5" y2="96.8" stroke="#052360" stroke-width="4.4" stroke-linecap="round"/>
<line x1="294" y1="128.8" x2="364" y2="128.8" stroke="#2aee2a" stroke-width="4.4" stroke-linecap="round"/>
<line x1="294" y1="164.5" x2="364" y2="164.5" stroke="#7d1e23" stroke-width="4.4" stroke-linecap="round"/>
<text transform="translate(375.76,102.5) scale(0.2678,0.2569)" font-family="&quot;Liberation Serif&quot;, serif" font-weight="bold" font-style="normal" font-size="100" fill="#000" >GaP B-B</text>
<text transform="translate(377.52,137.4) scale(0.2615,0.2585)" font-family="&quot;Liberation Serif&quot;, serif" font-weight="bold" font-style="normal" font-size="100" fill="#000" >InP QDs</text>
<text transform="translate(377.51,172.5) scale(0.2649,0.2600)" font-family="&quot;Liberation Serif&quot;, serif" font-weight="bold" font-style="normal" font-size="100" fill="#000" >InP B-B</text>
<text transform="translate(405.08,55.06) scale(0.6806,0.6256)" font-family="&quot;Liberation Serif&quot;, serif" font-weight="bold" font-style="normal" font-size="100" fill="#000" >(a)</text>
<text transform="translate(76.97,431.63) scale(0.2807,0.3358)" font-family="&quot;Liberation Serif&quot;, serif" font-weight="bold" font-style="normal" font-size="100" fill="#000" >400</text>
<text transform="translate(165,431.63) scale(0.2846,0.3358)" font-family="&quot;Liberation Serif&quot;, serif" font-weight="bold" font-style="normal" font-size="100" fill="#000" >600</text>
<text transform="translate(253.8,431.63) scale(0.2846,0.3358)" font-family="&quot;Liberation Serif&quot;, serif" font-weight="bold" font-style="normal" font-size="100" fill="#000" >800</text>
<text transform="translate(336.93,431.64) scale(0.2713,0.3309)" font-family="&quot;Liberation Serif&quot;, serif" font-weight="bold" font-style="normal" font-size="100" fill="#000" >1000</text>
<text transform="translate(426.13,431.64) scale(0.2713,0.3309)" font-family="&quot;Liberation Serif&quot;, serif" font-weight="bold" font-style="normal" font-size="100" fill="#000" >1200</text>
<text transform="translate(166.03,471.2) scale(0.2710,0.3323)" font-family="&quot;Liberation Serif&quot;, serif" font-weight="bold" font-style="normal" font-size="100" fill="#000" >Wavelength (nm)</text>
<text transform="translate(20.4,329.2) scale(0.3333,0.3173) rotate(-90)" font-family="&quot;Liberation Sans&quot;, sans-serif" font-weight="normal" font-style="normal" font-size="100" fill="#000" stroke="#000" stroke-width="3">Absorbance (a.u)</text>
<rect x="69.5" y="511" width="442.5" height="400.5" fill="none" stroke="#000" stroke-width="4.6"/>
<line x1="69.5" y1="543.1" x2="77.4" y2="543.1" stroke="#000" stroke-width="4.2"/>
<line x1="69.5" y1="607.4" x2="75" y2="607.4" stroke="#000" stroke-width="4.2"/>
<line x1="69.5" y1="671.7" x2="77.4" y2="671.7" stroke="#000" stroke-width="4.2"/>
<line x1="69.5" y1="736" x2="75" y2="736" stroke="#000" stroke-width="4.2"/>
<line x1="69.5" y1="800.3" x2="77.4" y2="800.3" stroke="#000" stroke-width="4.2"/>
<line x1="69.5" y1="864.6" x2="75" y2="864.6" stroke="#000" stroke-width="4.2"/>
<line x1="94.08" y1="911.5" x2="94.08" y2="902.5" stroke="#000" stroke-width="3.6"/>
<line x1="155.53" y1="911.5" x2="155.53" y2="906.5" stroke="#000" stroke-width="3.6"/>
<line x1="216.98" y1="911.5" x2="216.98" y2="902.5" stroke="#000" stroke-width="3.6"/>
<line x1="278.43" y1="911.5" x2="278.43" y2="906.5" stroke="#000" stroke-width="3.6"/>
<line x1="339.88" y1="911.5" x2="339.88" y2="902.5" stroke="#000" stroke-width="3.6"/>
<line x1="401.33" y1="911.5" x2="401.33" y2="906.5" stroke="#000" stroke-width="3.6"/>
<line x1="462.78" y1="911.5" x2="462.78" y2="902.5" stroke="#000" stroke-width="3.6"/>
<line x1="524.23" y1="911.5" x2="524.23" y2="906.5" stroke="#000" stroke-width="3.6"/>
<clipPath id="cb"><rect x="60" y="500" width="452" height="420"/></clipPath>
<path d="M99.6,669 C100.57,668.2 103.47,666.6 105.4,664.2 C107.33,661.8 109.28,659.4 111.2,654.6 C113.12,649.8 114.98,643.42 116.9,635.4 C118.82,627.38 120.77,616.43 122.7,606.5 C124.63,596.57 126.73,585.38 128.5,575.8 C130.27,566.22 131.95,554.88 133.3,549 C134.65,543.12 135.4,540.75 136.6,540.5 C137.8,540.25 139.13,542.27 140.5,547.5 C141.87,552.73 143.6,563.15 144.8,571.9 C146,580.65 146.97,590.18 147.7,600 C148.43,609.82 148.57,620.55 149.2,630.8 C149.83,641.05 150.6,651.25 151.5,661.5 C152.4,671.75 153.57,682.05 154.6,692.3 C155.63,702.55 156.67,712.75 157.7,723 C158.73,733.25 159.82,744.3 160.8,753.8 C161.78,763.3 162.58,771.8 163.6,780 C164.62,788.2 165.83,797.17 166.9,803 C167.97,808.83 168.85,814.47 170,815 C171.15,815.53 172.67,811.2 173.8,806.2 C174.93,801.2 175.83,793.7 176.8,785 C177.77,776.3 178.55,764.33 179.6,754 C180.65,743.67 181.88,733.28 183.1,723 C184.32,712.72 185.62,702.55 186.9,692.3 C188.18,682.05 189.52,671.75 190.8,661.5 C192.08,651.25 193.42,641.05 194.6,630.8 C195.78,620.55 196.75,610.13 197.9,600 C199.05,589.87 200,577.83 201.5,570 C203,562.17 205.2,556.37 206.9,553 C208.6,549.63 209.93,549.22 211.7,549.8 C213.47,550.38 215.42,552.17 217.5,556.5 C219.58,560.83 221.8,567.47 224.2,575.8 C226.6,584.13 229.65,597.13 231.9,606.5 C234.15,615.87 235.93,623.75 237.7,632 C239.47,640.25 240.9,648.67 242.5,656 C244.1,663.33 245.7,669.7 247.3,676 C248.9,682.3 250.5,688.58 252.1,693.8 C253.7,699.02 255.13,703.13 256.9,707.3 C258.67,711.47 260.77,715.27 262.7,718.8 C264.63,722.33 266.25,725.93 268.5,728.5 C270.75,731.07 273.65,733.25 276.2,734.2 C278.75,735.15 281.25,734.83 283.8,734.2 C286.35,733.57 288.93,732 291.5,730.4 C294.07,728.8 296.63,726.53 299.2,724.6 C301.77,722.67 304.33,720.72 306.9,718.8 C309.47,716.88 312.03,715.02 314.6,713.1 C317.17,711.18 319.73,708.9 322.3,707.3 C324.87,705.7 327.05,704.52 330,703.5 C332.95,702.48 336.67,701.87 340,701.2 C343.33,700.53 346.67,700 350,699.5 C353.33,699 356.67,698.53 360,698.2 C363.33,697.87 366.67,697.78 370,697.5 C373.33,697.22 375.63,696.93 380,696.5 C384.37,696.07 390.82,696.07 396.2,694.9 C401.58,693.73 406.92,691.57 412.3,689.5 C417.68,687.43 423.12,684.88 428.5,682.5 C433.88,680.12 439.22,677.45 444.6,675.2 C449.98,672.95 455.4,670.93 460.8,669 C466.2,667.07 471.62,665.03 477,663.6 C482.38,662.17 487.43,661.2 493.1,660.4 C498.77,659.6 508.02,659.07 511,658.8" fill="none" stroke="#ff0a0a" stroke-width="4.6" stroke-linecap="round" stroke-linejoin="round" clip-path="url(#cb)"/>
<rect x="134.5" y="510" width="70.5" height="408" fill="rgb(243,163,99)" fill-opacity="0.25"/>
<rect x="248.5" y="510" width="70.5" height="408" fill="rgb(103,183,15)" fill-opacity="0.25"/>
<rect x="347.5" y="510" width="70.5" height="408" fill="rgb(103,147,215)" fill-opacity="0.25"/>
<text transform="translate(183.2,633.79) scale(0.3477,0.3307) rotate(-90)" font-family="&quot;Liberation Serif&quot;, serif" font-weight="bold" font-style="normal" font-size="100" fill="#000" >InP B-B</text>
<text transform="translate(288.2,632.57) scale(0.3415,0.3249) rotate(-90)" font-family="&quot;Liberation Serif&quot;, serif" font-weight="bold" font-style="normal" font-size="100" fill="#000" >InP QDs</text>
<text transform="translate(388.1,649.69) scale(0.3508,0.3371) rotate(-90)" font-family="&quot;Liberation Serif&quot;, serif" font-weight="bold" font-style="normal" font-size="100" fill="#000" >GaP B-B</text>
<text transform="translate(420.8,567.88) scale(0.6754,0.6533)" font-family="&quot;Liberation Serif&quot;, serif" font-weight="bold" font-style="normal" font-size="100" fill="#000" >(b)</text>
<text transform="translate(76.56,943.32) scale(0.2903,0.3382)" font-family="&quot;Liberation Serif&quot;, serif" font-weight="bold" font-style="normal" font-size="100" fill="#000" >1.0</text>
<text transform="translate(199.46,943.66) scale(0.2903,0.3433)" font-family="&quot;Liberation Serif&quot;, serif" font-weight="bold" font-style="normal" font-size="100" fill="#000" >1.5</text>
<text transform="translate(323.56,943.31) scale(0.2803,0.3433)" font-family="&quot;Liberation Serif&quot;, serif" font-weight="bold" font-style="normal" font-size="100" fill="#000" >2.0</text>
<text transform="translate(446.46,943.65) scale(0.2803,0.3485)" font-family="&quot;Liberation Serif&quot;, serif" font-weight="bold" font-style="normal" font-size="100" fill="#000" >2.5</text>
<text transform="translate(198.88,985.4) scale(0.3581,0.4292)" font-family="&quot;Liberation Serif&quot;, serif" font-weight="bold" font-style="normal" font-size="100" fill="#000" >Energy (eV)</text>
<text transform="translate(38.37,813.36) scale(0.4333,0.4138) rotate(-90)" font-family="&quot;Liberation Serif&quot;, serif" font-weight="bold" font-style="normal" font-size="100" fill="#000" >d<tspan dy="-23" font-size="92">2</tspan><tspan dy="23">A/dE</tspan><tspan dy="-23" font-size="92">2</tspan></text>
<rect x="71.5" y="1030.3" width="443.5" height="407.0" fill="none" stroke="#000" stroke-width="4.6"/>
<line x1="71.5" y1="1075.4" x2="80.4" y2="1075.4" stroke="#000" stroke-width="4.2"/>
<line x1="71.5" y1="1120.55" x2="80.4" y2="1120.55" stroke="#000" stroke-width="4.2"/>
<line x1="71.5" y1="1165.7" x2="80.4" y2="1165.7" stroke="#000" stroke-width="4.2"/>
<line x1="71.5" y1="1210.85" x2="80.4" y2="1210.85" stroke="#000" stroke-width="4.2"/>
<line x1="71.5" y1="1256" x2="80.4" y2="1256" stroke="#000" stroke-width="4.2"/>
<line x1="71.5" y1="1301.15" x2="80.4" y2="1301.15" stroke="#000" stroke-width="4.2"/>
<line x1="71.5" y1="1346.3" x2="80.4" y2="1346.3" stroke="#000" stroke-width="4.2"/>
<line x1="71.5" y1="1391.45" x2="80.4" y2="1391.45" stroke="#000" stroke-width="4.2"/>
<line x1="113.3" y1="1437.3" x2="113.3" y2="1427.3" stroke="#000" stroke-width="3.6"/>
<line x1="155.63" y1="1437.3" x2="155.63" y2="1432.3" stroke="#000" stroke-width="3.6"/>
<line x1="197.96" y1="1437.3" x2="197.96" y2="1427.3" stroke="#000" stroke-width="3.6"/>
<line x1="240.29" y1="1437.3" x2="240.29" y2="1432.3" stroke="#000" stroke-width="3.6"/>
<line x1="282.62" y1="1437.3" x2="282.62" y2="1427.3" stroke="#000" stroke-width="3.6"/>
<line x1="324.95" y1="1437.3" x2="324.95" y2="1432.3" stroke="#000" stroke-width="3.6"/>
<line x1="367.28" y1="1437.3" x2="367.28" y2="1427.3" stroke="#000" stroke-width="3.6"/>
<line x1="409.61" y1="1437.3" x2="409.61" y2="1432.3" stroke="#000" stroke-width="3.6"/>
<line x1="451.94" y1="1437.3" x2="451.94" y2="1427.3" stroke="#000" stroke-width="3.6"/>
<line x1="494.27" y1="1437.3" x2="494.27" y2="1432.3" stroke="#000" stroke-width="3.6"/>
<text transform="translate(94.12,1468.15) scale(0.2800,0.3269)" font-family="&quot;Liberation Serif&quot;, serif" font-weight="bold" font-style="normal" font-size="100" fill="#000" >400</text>
<text transform="translate(178.21,1468.15) scale(0.2839,0.3269)" font-family="&quot;Liberation Serif&quot;, serif" font-weight="bold" font-style="normal" font-size="100" fill="#000" >600</text>
<text transform="translate(262.87,1468.15) scale(0.2839,0.3269)" font-family="&quot;Liberation Serif&quot;, serif" font-weight="bold" font-style="normal" font-size="100" fill="#000" >800</text>
<text transform="translate(341.01,1468.16) scale(0.2713,0.3221)" font-family="&quot;Liberation Serif&quot;, serif" font-weight="bold" font-style="normal" font-size="100" fill="#000" >1000</text>
<text transform="translate(425.67,1468.16) scale(0.2713,0.3221)" font-family="&quot;Liberation Serif&quot;, serif" font-weight="bold" font-style="normal" font-size="100" fill="#000" >1200</text>
<text transform="translate(176.03,1503.7) scale(0.2687,0.3262)" font-family="&quot;Liberation Serif&quot;, serif" font-weight="bold" font-style="normal" font-size="100" fill="#000" >Wavelength (nm)</text>
<text transform="translate(32.46,1297.44) scale(0.4211,0.3843) rotate(-90)" font-family="&quot;Liberation Serif&quot;, serif" font-weight="bold" font-style="normal" font-size="100" fill="#000" >ϕ<tspan font-style="italic" dy="19">s</tspan><tspan dy="-19">/</tspan><tspan>μ</tspan><tspan font-style="italic" dy="19">a</tspan></text>
<text transform="translate(439.85,1095.04) scale(0.6126,0.6411)" font-family="&quot;Liberation Serif&quot;, serif" font-weight="bold" font-style="normal" font-size="100" fill="#000" >(c)</text>
<path d="M113.51,1110.29 L113.68,1112.21 L113.86,1114.13 L114.04,1116.05 L114.22,1117.97 L114.41,1119.89 L114.61,1121.81 L114.81,1123.72 L115.01,1125.64 L115.22,1127.55 L115.44,1129.47 L115.65,1131.38 L115.88,1133.30 L116.11,1135.21 L116.34,1137.12 L116.58,1139.03 L116.82,1140.94 L117.07,1142.85 L117.32,1144.76 L117.58,1146.67 L117.84,1148.58 L118.11,1150.49 L118.38,1152.39 L118.65,1154.30 L118.93,1156.20 L119.21,1158.11 L119.50,1160.01 L119.79,1161.91 L120.09,1163.81 L120.39,1165.71 L120.70,1167.61 L121.01,1169.51 L121.32,1171.41 L121.64,1173.31 L121.96,1175.21 L122.29,1177.10 L122.62,1179.00 L122.95,1180.90 L123.29,1182.79 L123.63,1184.68 L123.98,1186.58 L124.33,1188.47 L124.68,1190.36 L125.04,1192.25 L125.40,1194.14 L125.77,1196.03 L126.14,1197.92 L126.51,1199.81 L126.89,1201.69 L127.27,1203.58 L127.65,1205.47 L128.04,1207.35 L128.44,1209.24 L128.83,1211.12 L129.23,1213.00 L129.63,1214.88 L130.04,1216.77 L130.45,1218.65 L130.86,1220.53 L131.28,1222.41 L131.70,1224.28 L132.12,1226.16 L132.55,1228.04 L132.98,1229.92 L133.41,1231.79 L133.85,1233.67 L134.29,1235.54 L134.73,1237.41 L135.18,1239.29 L135.63,1241.16 L136.08,1243.03 L136.54,1244.90 L137.00,1246.77 L137.46,1248.64 L137.93,1250.51 L138.39,1252.38 L138.87,1254.24 L139.34,1256.11 L139.82,1257.98 L140.30,1259.84 L140.78,1261.71 L141.27,1263.57 L141.75,1265.43 L142.24,1267.30 L142.74,1269.16 L143.24,1271.02 L143.74,1272.88 L144.24,1274.74 L144.74,1276.60 L145.25,1278.46 L145.76,1280.31 L146.27,1282.17 L146.79,1284.03 L147.30,1285.88 L147.82,1287.74 L148.35,1289.59 L148.87,1291.45 L149.40,1293.30 L149.93,1295.15 L150.46,1297.00 L150.99,1298.85 L151.53,1300.70 L152.07,1302.55 L152.61,1304.40 L153.15,1306.25 L153.70,1308.10 L154.25,1309.94 L154.80,1311.79 L155.36,1313.63 L155.91,1315.48 L156.47,1317.32 L157.04,1319.16 L157.60,1321.00 L158.17,1322.84 L158.74,1324.68 L159.32,1326.51 L159.90,1328.35 L160.48,1330.18 L161.06,1332.01 L161.65,1333.85 L162.24,1335.68 L162.84,1337.50 L163.44,1339.33 L164.04,1341.16 L164.65,1342.98 L165.26,1344.80 L165.88,1346.62 L166.50,1348.44 L167.12,1350.26 L167.75,1352.07 L168.39,1353.88 L169.03,1355.69 L169.68,1357.50 L170.35,1359.30 L171.02,1361.09 L171.71,1362.89 L172.41,1364.67 L173.13,1366.45 L173.86,1368.23 L174.60,1369.99 L175.37,1371.75 L176.15,1373.51 L176.96,1375.25 L177.78,1376.99 L178.63,1378.72 L179.49,1380.44 L180.39,1382.15 L181.31,1383.85 L182.25,1385.54 L183.22,1387.21 L184.22,1388.88 L185.25,1390.54 L186.31,1392.18 L187.40,1393.81 L188.53,1395.43 L189.69,1397.03 L190.89,1398.61 L192.13,1400.12 L193.44,1401.55 L194.81,1402.88 L196.25,1404.07 L197.78,1405.10 L199.40,1405.94 L201.11,1406.58 L202.92,1406.99 L204.79,1407.19 L206.68,1407.19 L208.56,1406.98 L210.40,1406.59 L212.16,1406.01 L213.83,1405.27 L215.42,1404.37 L216.93,1403.33 L218.36,1402.17 L219.73,1400.89 L221.03,1399.51 L222.28,1398.05 L223.48,1396.52 L224.63,1394.93 L225.75,1393.29 L226.83,1391.63 L227.88,1389.95 L228.92,1388.27 L229.93,1386.58 L230.91,1384.89 L231.88,1383.20 L232.83,1381.50 L233.76,1379.79 L234.67,1378.08 L235.56,1376.37 L236.44,1374.65 L237.30,1372.93 L238.15,1371.21 L238.98,1369.48 L239.79,1367.75 L240.60,1366.01 L241.39,1364.27 L242.17,1362.53 L242.93,1360.78 L243.69,1359.03 L244.44,1357.27 L245.18,1355.51 L245.91,1353.75 L246.63,1351.99 L247.35,1350.22 L248.06,1348.44 L248.77,1346.67 L249.47,1344.89 L250.17,1343.10 L250.86,1341.32 L251.56,1339.53 L252.24,1337.74 L252.93,1335.94 L253.62,1334.14 L254.30,1332.34 L254.98,1330.54 L255.65,1328.73 L256.33,1326.92 L257.00,1325.11 L257.67,1323.30 L258.33,1321.49 L259.00,1319.67 L259.66,1317.85 L260.32,1316.03 L260.98,1314.21 L261.63,1312.39 L262.29,1310.56 L262.94,1308.74 L263.59,1306.91 L264.23,1305.09 L264.88,1303.26 L265.52,1301.43 L266.16,1299.61 L266.80,1297.78 L267.43,1295.95 L268.07,1294.12 L268.70,1292.29 L269.33,1290.46 L269.96,1288.64 L270.59,1286.81 L271.21,1284.98 L271.83,1283.16 L272.46,1281.33 L273.08,1279.51 L273.69,1277.68 L274.31,1275.86 L274.93,1274.04 L275.54,1272.22 L276.15,1270.40 L276.76,1268.59 L277.37,1266.77 L277.98,1264.96 L278.58,1263.15 L279.19,1261.34 L279.79,1259.54 L280.39,1257.73 L281.00,1255.93 L281.60,1254.13 L282.19,1252.34 L282.79,1250.55 L283.39,1248.76 L283.98,1246.97 L284.57,1245.18 L285.16,1243.39 L285.75,1241.60 L286.33,1239.79 L286.91,1237.98 L287.47,1236.15 L288.04,1234.30 L288.59,1232.44 L289.13,1230.55 L289.67,1228.63 L290.19,1226.69 L290.71,1224.72 L291.21,1222.72 L291.71,1220.70 L292.22,1218.67 L292.75,1216.67 L293.31,1214.69 L293.92,1212.75 L294.59,1210.88 L295.32,1209.09 L296.13,1207.39 L297.03,1205.80 L298.03,1204.34 L299.14,1203.02 L300.38,1201.86 L301.75,1200.88 L303.26,1200.10 L304.89,1199.59 L306.63,1199.40 L308.47,1199.59 L310.40,1200.21 L312.38,1201.21 L314.38,1202.37 L316.35,1203.44 L318.25,1204.20 L320.06,1204.60 L321.80,1204.66 L323.47,1204.43 L325.07,1203.94 L326.61,1203.22 L328.09,1202.31 L329.52,1201.23 L330.89,1200.03 L332.23,1198.74 L333.52,1197.40 L334.78,1196.02 L336.00,1194.61 L337.20,1193.17 L338.36,1191.70 L339.49,1190.21 L340.59,1188.70 L341.66,1187.16 L342.71,1185.59 L343.74,1184.01 L344.74,1182.41 L345.71,1180.79 L346.67,1179.14 L347.61,1177.49 L348.53,1175.81 L349.44,1174.13 L350.33,1172.42 L351.21,1170.71 L352.07,1168.99 L352.92,1167.25 L353.77,1165.51 L354.60,1163.75 L355.43,1162.00 L356.26,1160.23 L357.08,1158.46 L357.89,1156.69 L358.71,1154.92 L359.52,1153.14 L360.34,1151.37 L361.16,1149.59 L361.98,1147.82 L362.81,1146.05 L363.65,1144.29 L364.49,1142.53 L365.35,1140.78 L366.21,1139.04 L367.09,1137.31 L367.98,1135.58 L368.89,1133.87 L369.81,1132.17 L370.75,1130.49 L371.71,1128.82 L372.69,1127.16 L373.69,1125.52 L374.71,1123.90 L375.76,1122.30 L376.84,1120.72 L377.94,1119.16 L379.07,1117.63 L380.23,1116.12 L381.42,1114.63 L382.65,1113.17 L383.91,1111.73 L385.20,1110.32 L386.52,1108.94 L387.87,1107.59 L389.25,1106.26 L390.65,1104.96 L392.09,1103.69 L393.55,1102.44 L395.04,1101.22 L396.55,1100.03 L398.08,1098.87 L399.64,1097.73 L401.22,1096.62 L402.82,1095.54 L404.45,1094.49 L406.09,1093.47 L407.75,1092.47 L409.43,1091.50 L411.12,1090.56 L412.83,1089.65 L414.56,1088.77 L416.30,1087.92 L418.05,1087.09 L419.82,1086.30 L421.60,1085.53 L423.39,1084.79 L425.19,1084.08 L427.00,1083.41 L428.81,1082.76 L430.64,1082.14 L432.47,1081.55 L434.30,1080.99 L436.14,1080.46 L437.99,1079.96 L439.84,1079.49 L441.69,1079.05 L443.54,1078.64 L445.39,1078.26 L447.24,1077.91 L449.09,1077.60 L450.94,1077.31 L452.78,1077.06" fill="none" stroke="#8c0005" stroke-width="12" stroke-linecap="round" stroke-linejoin="round" />
<circle cx="112.8" cy="1109.6" r="2" fill="#f6c8c8" fill-opacity="0.9"/>
</svg></body></html>
